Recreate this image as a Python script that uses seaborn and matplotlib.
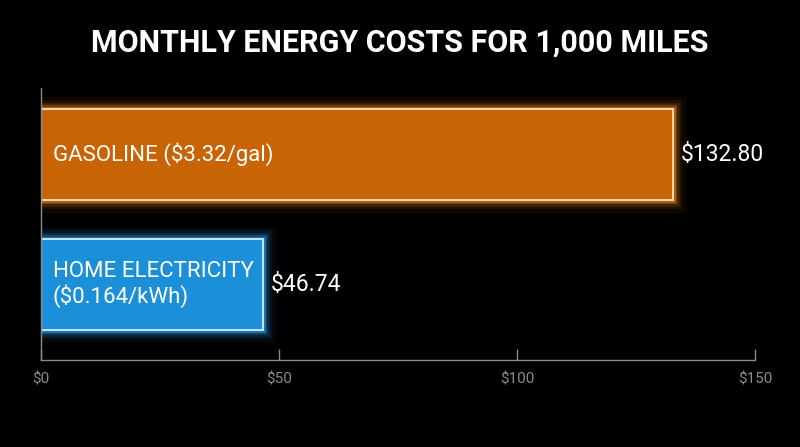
import pandas as pd
import seaborn as sns
import matplotlib.pyplot as plt
import matplotlib.patheffects as pe

# chart data
categories = ["GASOLINE ($3.32/gal)", "HOME ELECTRICITY\n($0.164/kWh)"]
costs = [132.80, 46.74]
value_labels = ["$132.80", "$46.74"]
bar_colors = ["#c96406", "#1b8fd8"]
glow_colors = ["#ff8c1a", "#2aa8ff"]
edge_colors = ["#ffe2c0", "#d4eeff"]
ticks = [0, 50, 100, 150]
tick_labels = ["$0", "$50", "$100", "$150"]

sns.set_theme(style="dark")
plt.rcParams['font.family'] = ['Roboto', 'DejaVu Sans']

df = pd.DataFrame({"category": categories, "cost": costs})

fig = plt.figure(figsize=(8, 4.47), dpi=100, facecolor="black")
ax = fig.add_axes([0.051, 0.195, 0.893, 0.608])
ax.set_facecolor("black")

sns.barplot(data=df, x="cost", y="category", hue="category", palette=bar_colors,
            orient="h", width=0.7, saturation=1, legend=False, ax=ax)

# glow around each bar plus a thin light edge
for patch, gc, ec in zip(ax.patches, glow_colors, edge_colors):
    patch.set_edgecolor(ec)
    patch.set_linewidth(1.3)
    effects = []
    for lw, a in [(18, 0.05), (13, 0.08), (9, 0.14), (6, 0.25), (3.5, 0.45)]:
        effects.append(pe.Stroke(linewidth=lw, foreground=gc, alpha=a))
    effects.append(pe.Normal())
    patch.set_path_effects(effects)

# labels inside bars and values at the bar ends
for i, (cat, val, lab) in enumerate(zip(categories, costs, value_labels)):
    ax.text(2.5, i, cat, color="white", fontsize=16, va="center", ha="left",
            linespacing=1.1)
    ax.text(val + 1.6, i, lab, color="white", fontsize=16.5, va="center", ha="left")

ax.set_xlim(0, 150)
ax.set_ylim(1.58, -0.51)
ax.set_xticks(ticks)
ax.set_xticklabels(tick_labels, color="#8a8a8a", fontsize=11)
ax.set_yticks([])
ax.set_xlabel("")
ax.set_ylabel("")
ax.grid(False)
ax.tick_params(axis="x", direction="in", length=8, width=1, color="#8a8a8a", pad=9,
               bottom=True)
for side in ["top", "right"]:
    ax.spines[side].set_visible(False)
for side in ["left", "bottom"]:
    ax.spines[side].set_visible(True)
    ax.spines[side].set_color("#8a8a8a")
    ax.spines[side].set_linewidth(1)

fig.text(0.5, 0.905, "MONTHLY ENERGY COSTS FOR 1,000 MILES", color="white",
         fontsize=22, fontweight="bold", ha="center", va="center")

fig.savefig("out.png", dpi=100, facecolor="black")
